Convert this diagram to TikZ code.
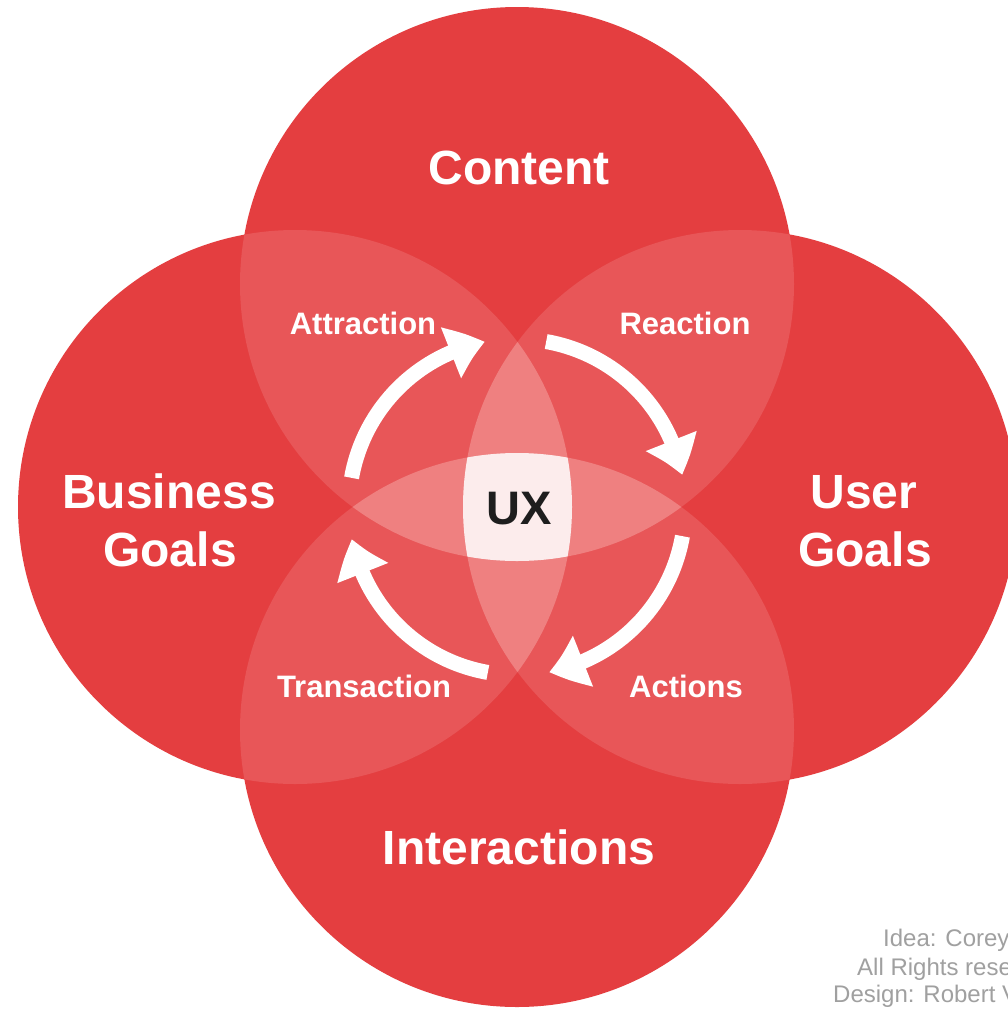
\documentclass[tikz,border=0pt]{standalone}
\usepackage{fontspec}
\setmainfont{Liberation Sans}
\usetikzlibrary{arrows.meta,bending}
\definecolor{cone}{RGB}{228,62,64}
\definecolor{ctwo}{RGB}{232,86,88}
\definecolor{cthree}{RGB}{239,128,128}
\definecolor{cfour}{RGB}{252,236,236}
\definecolor{credit}{RGB}{160,160,160}
\definecolor{uxtext}{RGB}{30,30,30}
\tikzset{
  bigtxt/.style={text=white,font=\bfseries\fontsize{48}{58}\selectfont,anchor=base,inner sep=0pt},
  smalltxt/.style={text=white,font=\bfseries\fontsize{31}{36}\selectfont,anchor=base,inner sep=0pt},
  uxtxt/.style={text=uxtext,font=\bfseries\fontsize{47}{52}\selectfont,anchor=base,inner sep=0pt},
  credittxt/.style={text=credit,font=\fontsize{24}{28}\selectfont,anchor=base west,inner sep=0pt},
  cyclearrow/.style={draw=white,line width=15pt,-{Triangle[width=52pt,length=36pt,bend]}},
}
\begin{document}
\begin{tikzpicture}[x=1pt,y=-1pt]
\useasboundingbox (0,0) rectangle (1008,1010);
\fill[white] (0,0) rectangle (1008,1010);
\clip (0,0) rectangle (1008,1010);
\def\R{277}
\coordinate (N) at (517,284);
\coordinate (S) at (517,730);
\coordinate (W) at (295,507);
\coordinate (E) at (740,507);
\coordinate (C) at (517,507);
% single circles
\foreach \c in {N,S,W,E} {\fill[cone] (\c) circle[radius=\R];}
% pairwise overlaps
\begin{scope}
  \clip (N) circle[radius=\R];
  \fill[ctwo] (W) circle[radius=\R];
  \fill[ctwo] (E) circle[radius=\R];
  \fill[ctwo] (S) circle[radius=\R];
\end{scope}
\begin{scope}
  \clip (S) circle[radius=\R];
  \fill[ctwo] (W) circle[radius=\R];
  \fill[ctwo] (E) circle[radius=\R];
\end{scope}
\begin{scope}
  \clip (W) circle[radius=\R];
  \fill[ctwo] (E) circle[radius=\R];
\end{scope}
% triple overlaps
\begin{scope}
  \clip (N) circle[radius=\R];
  \clip (W) circle[radius=\R];
  \fill[cthree] (E) circle[radius=\R];
  \fill[cthree] (S) circle[radius=\R];
\end{scope}
\begin{scope}
  \clip (N) circle[radius=\R];
  \clip (E) circle[radius=\R];
  \fill[cthree] (S) circle[radius=\R];
\end{scope}
\begin{scope}
  \clip (S) circle[radius=\R];
  \clip (W) circle[radius=\R];
  \fill[cthree] (E) circle[radius=\R];
\end{scope}
% all four
\begin{scope}
  \clip (N) circle[radius=\R];
  \clip (S) circle[radius=\R];
  \clip (W) circle[radius=\R];
  \fill[cfour] (E) circle[radius=\R];
\end{scope}
% cycle arrows
\def\r{168}
\draw[cyclearrow] (C) ++(-170:\r) arc[start angle=-170,end angle=-101,radius=\r];
\draw[cyclearrow] (C) ++(-80:\r) arc[start angle=-80,end angle=-11,radius=\r];
\draw[cyclearrow] (C) ++(10:\r) arc[start angle=10,end angle=79,radius=\r];
\draw[cyclearrow] (C) ++(100:\r) arc[start angle=100,end angle=169,radius=\r];
% labels
\node[bigtxt] (content) at (519,184) {Content};
\node[bigtxt] (business) at (169,508) {Business};
\node[bigtxt] (bgoals) at (170,566) {Goals};
\node[bigtxt] (user) at (864,508) {User};
\node[bigtxt] (ugoals) at (865,566) {Goals};
\node[bigtxt] (inter) at (519,864) {Interactions};
\node[smalltxt] (attr) at (363,334) {Attraction};
\node[smalltxt] (react) at (685,334) {Reaction};
\node[smalltxt] (trans) at (364,697) {Transaction};
\node[smalltxt] (act) at (686,697) {Actions};
\node[uxtxt] (ux) at (519,524) {UX};
\node[credittxt] (cr1) at (883,946) {Idea: Corey};
\node[credittxt] (cr2) at (857,975) {All Rights rese};
\node[credittxt] (cr3) at (833,1002) {Design: Robert V};
\end{tikzpicture}
\end{document}
